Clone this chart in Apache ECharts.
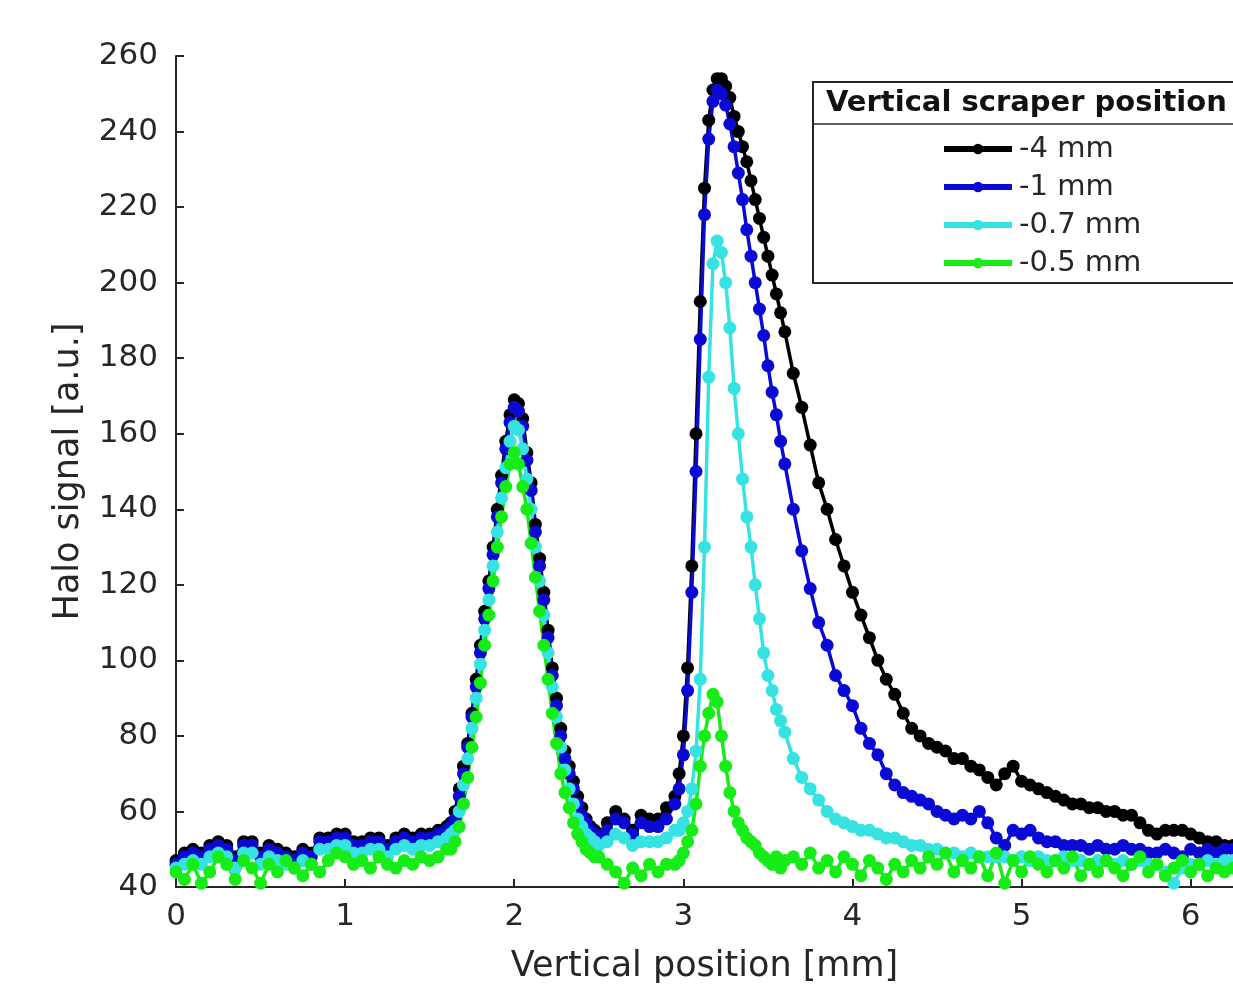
<!DOCTYPE html>
<html>
<head>
<meta charset="utf-8">
<title>Halo signal</title>
<script src="https://cdn.jsdelivr.net/npm/echarts@6/dist/echarts.min.js"></script>
<style>
    html, body { margin: 0; padding: 0; background: #fff; }
    #haloChart { width: 1233px; height: 991px; }
</style>
</head>
<body>
<div id="haloChart"></div>
<script>
// vertical position [mm], shared by all four scans
var positions = [
    0,0.05,0.1,0.15,0.2,0.25,0.3,0.35,0.4,0.45,0.5,0.55,0.6,0.65,0.7,0.75,0.8,0.85,0.9,0.95,1,1.05,1.1,1.15,1.2,1.25,1.3,1.35,1.4,1.45,1.5,1.55,1.6,
    1.625,1.65,1.675,1.7,1.725,1.75,1.775,1.8,1.825,1.85,1.875,1.9,1.925,1.95,1.975,2,2.025,2.05,2.075,2.1,2.125,2.15,2.175,2.2,2.225,2.25,2.275,2.3,2.325,2.35,2.375,2.4,2.425,2.45,2.475,2.5,
    2.55,2.6,2.65,2.7,2.75,2.8,2.85,2.9,2.95,
    2.975,3,3.025,3.05,3.075,3.1,3.125,3.15,3.175,3.2,3.225,3.25,3.275,3.3,3.325,3.35,3.375,3.4,3.425,3.45,3.475,3.5,3.525,3.55,3.575,3.6,
    3.65,3.7,3.75,3.8,3.85,3.9,3.95,4,4.05,4.1,4.15,4.2,4.25,4.3,4.35,4.4,4.45,4.5,4.55,4.6,4.65,4.7,4.75,4.8,4.85,4.9,4.95,5,5.05,5.1,
    5.15,5.2,5.25,5.3,5.35,5.4,5.45,5.5,5.55,5.6,5.65,5.7,5.75,5.8,5.85,5.9,5.95,6,6.05,6.1,6.15,6.2,6.25
];

// halo signal [a.u.] per scraper position
var halo4mm = [
    47,49,50,49,51,52,51,48,52,52,49,51,50,49,48,50,49,53,53,54,54,52,52,53,53,51,53,54,53,54,54,55,56,
    57,60,66,72,78,86,95,104,113,121,130,140,149,158,165,169,168,164,155,147,136,127,118,108,98,90,82,76,72,68,64,61,58,56,55,54,
    57,60,58,55,59,58,58,61,64,
    70,80,98,125,160,195,225,243,251,254,254,252,249,244,240,236,232,227,222,217,212,207,202,197,192,187,
    176,167,157,147,140,132,125,118,112,106,100,95,91,86,82,80,78,77,76,74,74,72,71,69,67,70,72,68,67,66,
    65,64,63,62,62,61,61,60,60,59,59,57,55,54,55,55,55,54,53,52,52,51,51
];
var halo1mm = [
    46,48,49,48,50,51,50,47,51,51,48,50,49,48,47,49,48,52,52,53,53,51,51,52,52,50,52,53,52,53,53,54,55,
    56,58,64,70,77,85,93,102,111,119,128,138,147,156,163,167,166,162,153,145,134,125,116,106,96,88,80,74,70,66,62,59,57,55,54,53,
    55,58,57,54,57,56,56,58,62,
    66,75,92,118,150,185,218,238,248,251,250,247,242,236,229,222,214,207,200,193,186,178,171,165,158,152,
    140,129,119,110,104,96,92,88,82,78,75,70,67,65,64,63,62,60,59,58,59,58,60,57,53,51,55,54,55,53,
    52,52,51,51,51,50,51,50,50,51,50,50,49,49,50,49,48,50,49,50,49,50,50
];
var halo07mm = [
    45,46,47,46,48,49,48,45,49,49,46,48,47,46,45,47,46,50,50,51,51,49,49,50,50,48,50,51,50,51,51,52,53,
    54,55,60,67,74,82,90,99,108,116,125,134,143,151,158,162,161,156,148,140,130,121,112,102,93,85,77,71,66,62,58,56,54,53,52,51,
    52,54,53,51,52,52,52,53,55,
    55,57,60,66,76,95,130,175,205,211,208,200,188,172,160,148,138,130,120,111,102,96,92,87,84,81,
    74,69,66,63,60,58,57,56,55,55,54,53,53,52,51,51,50,50,49,49,48,49,48,48,48,48,47,48,47,48,
    47,47,48,47,47,46,47,47,46,47,46,47,46,46,44,41,45,46,46,47,46,47,47
];
var halo05mm = [
    44,42,46,41,44,48,46,42,47,45,41,46,44,47,45,43,46,44,47,49,48,46,47,45,48,46,45,47,46,48,47,48,50,
    50,52,56,62,69,77,85,94,104,112,121,130,138,146,152,155,152,146,140,131,122,113,104,95,86,78,70,65,61,57,54,52,50,49,48,48,
    46,44,41,45,43,46,44,46,46,
    47,49,52,55,62,72,80,86,91,89,80,72,65,60,57,55,53,52,51,49,48,47,46,48,45,47,
    48,46,49,45,47,44,48,46,43,47,45,42,46,44,47,45,48,46,49,44,47,45,48,43,49,41,47,44,48,46,
    44,47,45,48,43,46,44,47,45,43,46,48,44,46,43,45,47,44,46,43,45,44,45
];

var seriesNames = ['-4 mm', '-1 mm', '-0.7 mm', '-0.5 mm'];
var seriesColors = ['#000000', '#0a0ad4', '#36e2e2', '#18ec18'];
var seriesValues = [halo4mm, halo1mm, halo07mm, halo05mm];

var xTicks = [0, 1, 2, 3, 4, 5, 6];
var yTicks = [40, 60, 80, 100, 120, 140, 160, 180, 200, 220, 240, 260];

var fontName = 'DejaVu Sans';
var inkColor = '#262626';

function makeSeries(name, color, values) {
    return {
        name: name,
        type: 'line',
        data: positions.map(function (x, i) { return [x, values[i]]; }),
        symbol: 'circle',
        symbolSize: 13,
        showAllSymbol: true,
        lineStyle: { width: 3.5, color: color },
        itemStyle: { color: color },
        emphasis: { disabled: true },
        animation: false
    };
}

function drawChart() {
    var chart = echarts.init(document.getElementById('haloChart'));

    var option = {
        backgroundColor: '#ffffff',
        animation: false,
        grid: {
            left: 176,
            top: 56,
            right: -9,
            bottom: 104
        },
        xAxis: {
            type: 'value',
            min: xTicks[0],
            max: 6.25,
            interval: 1,
            name: 'Vertical position [mm]',
            nameLocation: 'middle',
            nameGap: 62,
            nameTextStyle: { fontFamily: fontName, fontSize: 35, color: inkColor },
            axisLine: { show: true, lineStyle: { color: inkColor, width: 2 } },
            axisTick: { show: true, inside: true, length: 8, lineStyle: { color: inkColor, width: 2 } },
            axisLabel: {
                fontFamily: fontName, fontSize: 31, color: inkColor, margin: 14,
                showMaxLabel: false
            },
            splitLine: { show: false }
        },
        yAxis: {
            type: 'value',
            min: yTicks[0],
            max: yTicks[yTicks.length - 1],
            interval: 20,
            name: 'Halo signal [a.u.]',
            nameLocation: 'middle',
            nameGap: 90,
            nameTextStyle: { fontFamily: fontName, fontSize: 35, color: inkColor },
            axisLine: { show: true, lineStyle: { color: inkColor, width: 2 } },
            axisTick: { show: true, inside: true, length: 8, lineStyle: { color: inkColor, width: 2 } },
            axisLabel: { fontFamily: fontName, fontSize: 31, color: inkColor, margin: 18 },
            splitLine: { show: false }
        },
        legend: {
            orient: 'vertical',
            left: 936,
            top: 129,
            itemWidth: 68,
            itemHeight: 13,
            itemGap: 8,
            data: seriesNames,
            lineStyle: { width: 6 },
            textStyle: { fontFamily: fontName, fontSize: 29, color: inkColor, lineHeight: 30, padding: [0, 0, 0, 2] }
        },
        graphic: [
            {
                type: 'rect',
                shape: { x: 813, y: 82, width: 440, height: 201 },
                style: { fill: '#ffffff', stroke: '#262626', lineWidth: 2 },
                z: 1
            },
            {
                type: 'line',
                shape: { x1: 813, y1: 124, x2: 1253, y2: 124 },
                style: { stroke: '#262626', lineWidth: 1.5 },
                z: 2
            },
            {
                type: 'text',
                x: 826,
                y: 103,
                style: {
                    text: 'Vertical scraper position',
                    font: 'bold 29px "DejaVu Sans"',
                    fill: '#111111',
                    verticalAlign: 'middle'
                },
                z: 2
            }
        ],
        series: seriesNames.map(function (name, i) {
            return makeSeries(name, seriesColors[i], seriesValues[i]);
        })
    };

    chart.setOption(option);
    window.addEventListener('resize', function () {
        chart.resize();
    });
}

drawChart();
</script>
</body>
</html>
